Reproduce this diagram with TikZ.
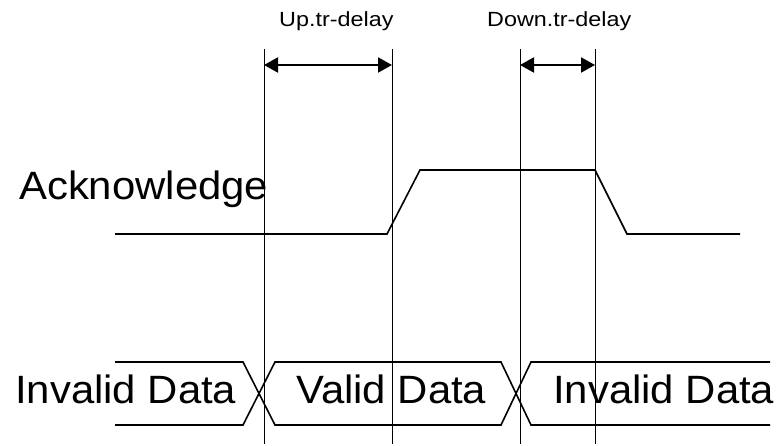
\documentclass[tikz,border=0pt]{standalone}
\usepackage{fontspec}
\setmainfont{Liberation Sans}
\newfontfamily\bigsans[FakeStretch=1.06]{Liberation Sans}
\newfontfamily\smallsans[FakeStretch=1.14]{Liberation Sans}
\usetikzlibrary{arrows.meta}
\begin{document}
\begin{tikzpicture}[x=1pt,y=-1pt,
  guide/.style={line width=1pt},
  signal/.style={line width=1.6pt, line join=miter},
  span/.style={line width=2pt,
    {Triangle[length=14pt,width=15pt]}-{Triangle[length=14pt,width=15pt]}},
  biglabel/.style={font=\bigsans\fontsize{39.5}{46}\selectfont, inner sep=0pt, anchor=base west},
  smalllabel/.style={font=\smallsans\fontsize{20.5}{24}\selectfont, inner sep=0pt, anchor=base west}]
\useasboundingbox (0,0) rectangle (776,446);

% delay labels
\node[smalllabel] (uplbl) at (279,27) {Up.tr-delay};
\node[smalllabel] (downlbl) at (487,27) {Down.tr-delay};

% signal names and bus contents
\node[biglabel] (ack) at (19,200) {Acknowledge};
\node[biglabel] (inv1) at (15,403) {Invalid Data};
\node[biglabel] (valid) at (296,403) {Valid Data};
\node[biglabel] (inv2) at (553,403) {Invalid Data};

% vertical timing guides
\foreach \n/\x in {1/264, 2/392, 3/520, 4/595} {
  \coordinate (g\n t) at (\x,49);
  \coordinate (g\n b) at (\x,444);
  \coordinate (g\n m) at (\x,65);
  \draw[guide] (g\n t) -- (g\n b);
}

% delay spans
\draw[span] (g1m) -- (g2m);
\draw[span] (g3m) -- (g4m);

% acknowledge waveform
\coordinate (ackstart) at (115,234);
\coordinate (ackend) at (740,234);
\draw[signal] (ackstart) -- (387,234) -- (420,170) -- (595,170)
  -- (627,234) -- (ackend);

% data bus
\coordinate (busA) at (115,362);
\coordinate (busB) at (115,425);
\coordinate (busAend) at (770,362);
\coordinate (busBend) at (770,425);
\draw[signal] (busA) -- (243,362) -- (275,425) -- (501,425) -- (531,362) -- (busAend);
\draw[signal] (busB) -- (243,425) -- (275,362) -- (501,362) -- (531,425) -- (busBend);
\end{tikzpicture}
\end{document}
